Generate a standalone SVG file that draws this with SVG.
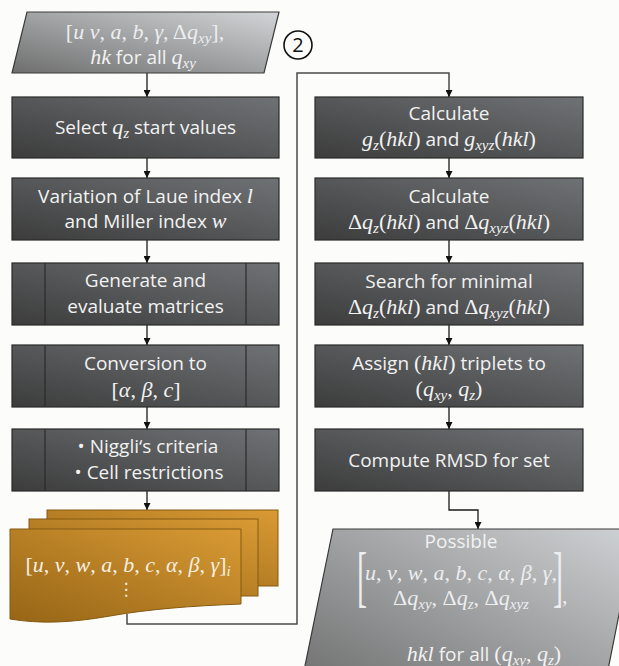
<svg xmlns="http://www.w3.org/2000/svg" width="619" height="666" viewBox="0 0 619 666">
<style>
.t{font-family:"Open Sans","Noto Sans",sans-serif;font-size:19px;fill:#f2f2f2;text-anchor:middle}
.m{font-family:"Liberation Serif","DejaVu Serif",serif;font-style:italic;font-size:22px}
.u{font-family:"Liberation Serif","DejaVu Serif",serif;font-style:normal;font-size:22px}
.sb{font-size:15px}
.box{fill:url(#gDark);stroke:#2a2a2a;stroke-width:1.2}
.div{stroke:#2a2a2a;stroke-width:1.2}
.para{stroke:#3a3a3a;stroke-width:1.2}
.sheet{fill:url(#gOr);stroke:#855a12;stroke-width:1}
.con{fill:none;stroke:#1a1a1a;stroke-width:1.3}
.loop{fill:none;stroke:#4a4a4a;stroke-width:1.5}
</style>
<defs>
<linearGradient id="gDark" x1="0" y1="1" x2="1" y2="0">
<stop offset="0" stop-color="#3c3c3c"/><stop offset="1" stop-color="#6f7275"/>
</linearGradient>
<linearGradient id="gLight" x1="0" y1="1" x2="1" y2="0">
<stop offset="0" stop-color="#6e6e6e"/><stop offset="1" stop-color="#d2d5d7"/>
</linearGradient>
<linearGradient id="gLight2" x1="0" y1="1" x2="1" y2="0">
<stop offset="0" stop-color="#6a6a6a"/><stop offset="1" stop-color="#cfd2d4"/>
</linearGradient>
<linearGradient id="gOr" x1="0" y1="1" x2="1" y2="0">
<stop offset="0" stop-color="#966516"/><stop offset="1" stop-color="#d99a34"/>
</linearGradient>
<marker id="ah" viewBox="0 0 10 10" refX="10" refY="5" markerWidth="7" markerHeight="7" markerUnits="userSpaceOnUse" orient="auto">
<path d="M0,0 L10,5 L0,10 z" fill="#111"/>
</marker>
</defs>
<rect width="619" height="666" fill="#fcfcfa"/>

<g id="connectors">
<line class="con" x1="147" y1="73" x2="147" y2="97" marker-end="url(#ah)"/>
<line class="con" x1="147" y1="158" x2="147" y2="178" marker-end="url(#ah)"/>
<line class="con" x1="147" y1="240" x2="147" y2="263" marker-end="url(#ah)"/>
<line class="con" x1="147" y1="325" x2="147" y2="345" marker-end="url(#ah)"/>
<line class="con" x1="147" y1="407" x2="147" y2="429" marker-end="url(#ah)"/>
<line class="con" x1="147" y1="491" x2="147" y2="510" marker-end="url(#ah)"/>
<path class="loop" d="M127,614 V624 H297 V73 H449 V96"/>
<line class="con" x1="449" y1="90" x2="449" y2="97" marker-end="url(#ah)"/>
<line class="con" x1="449" y1="158" x2="449" y2="178" marker-end="url(#ah)"/>
<line class="con" x1="449" y1="240" x2="449" y2="263" marker-end="url(#ah)"/>
<line class="con" x1="449" y1="325" x2="449" y2="345" marker-end="url(#ah)"/>
<line class="con" x1="449" y1="407" x2="449" y2="429" marker-end="url(#ah)"/>
<path class="con" d="M449,491 V510 H478 V529" marker-end="url(#ah)"/>
</g>

<g id="input">
<polygon class="para" points="27,12 279,12 264,73 12,73" fill="url(#gLight)"/>
<text class="m" x="145" y="39" text-anchor="middle" fill="#eceef0"><tspan class="u">[</tspan>u v<tspan class="u">, </tspan>a<tspan class="u">, </tspan>b<tspan class="u">, </tspan>γ<tspan class="u">, Δ</tspan>q<tspan class="sb" dy="4">xy</tspan><tspan class="u" dy="-4">],</tspan></text>
<text class="t" x="143" y="64" fill="#eceef0"><tspan class="m">hk</tspan> for all <tspan class="m">q</tspan><tspan class="m sb" dy="4">xy</tspan></text>
</g>

<g id="marker2">
<circle cx="298" cy="45" r="14" fill="none" stroke="#111" stroke-width="1.6"/>
<text x="298" y="52" text-anchor="middle" font-family="Open Sans, sans-serif" font-size="20" fill="#111">2</text>
</g>

<g id="select">
<rect class="box" x="12" y="97" width="267" height="61"/>
<text class="t" x="145.5" y="134">Select <tspan class="m">q</tspan><tspan class="m sb" dy="4">z</tspan><tspan dy="-4"> start values</tspan></text>
</g>

<g id="variation">
<rect class="box" x="12" y="178" width="267" height="62"/>
<text class="t" x="145.5" y="203">Variation of Laue index <tspan class="m">l</tspan></text>
<text class="t" x="145.5" y="228">and Miller index <tspan class="m">w</tspan></text>
</g>

<g id="generate">
<rect class="box" x="12" y="263" width="267" height="62"/>
<line class="div" x1="45" y1="263" x2="45" y2="325"/>
<line class="div" x1="246" y1="263" x2="246" y2="325"/>
<text class="t" x="145.5" y="287">Generate and</text>
<text class="t" x="145.5" y="313">evaluate matrices</text>
</g>

<g id="conversion">
<rect class="box" x="12" y="345" width="267" height="62"/>
<line class="div" x1="45" y1="345" x2="45" y2="407"/>
<line class="div" x1="246" y1="345" x2="246" y2="407"/>
<text class="t" x="145.5" y="370">Conversion to</text>
<text class="m" x="146" y="397" text-anchor="middle" fill="#f2f2f2"><tspan class="u">[</tspan>α<tspan class="u">, </tspan>β<tspan class="u">, </tspan>c<tspan class="u">]</tspan></text>
</g>

<g id="criteria">
<rect class="box" x="12" y="429" width="267" height="62"/>
<line class="div" x1="45" y1="429" x2="45" y2="491"/>
<line class="div" x1="246" y1="429" x2="246" y2="491"/>
<text class="t" x="148" y="453">•  Niggli‘s criteria</text>
<text class="t" x="149" y="479">• Cell restrictions</text>
</g>

<g id="results">
<rect class="sheet" x="47" y="510" width="231" height="76"/>
<rect class="sheet" x="29" y="519" width="229" height="77"/>
<path class="sheet" d="M10,529 H241 V604 C190,606 150,609 110,616 C70,623 40,624 10,619 Z"/>
<text class="m" x="128" y="572" text-anchor="middle" fill="#f6efe2"><tspan class="u">[</tspan>u<tspan class="u">, </tspan>v<tspan class="u">, </tspan>w<tspan class="u">, </tspan>a<tspan class="u">, </tspan>b<tspan class="u">, </tspan>c<tspan class="u">, </tspan>α<tspan class="u">, </tspan>β<tspan class="u">, </tspan>γ<tspan class="u">]</tspan><tspan class="sb" dy="4">i</tspan></text>
<text x="126" y="595" text-anchor="middle" font-family="DejaVu Sans, sans-serif" font-size="17" fill="#f6efe2">⋮</text>
</g>

<g id="calc-g">
<rect class="box" x="315" y="97" width="268" height="61"/>
<text class="t" x="449" y="120">Calculate</text>
<text class="t" x="449" y="146"><tspan class="m">g</tspan><tspan class="m sb" dy="4">z</tspan><tspan class="u" dy="-4">(</tspan><tspan class="m">hkl</tspan><tspan class="u">)</tspan> and <tspan class="m">g</tspan><tspan class="m sb" dy="4">xyz</tspan><tspan class="u" dy="-4">(</tspan><tspan class="m">hkl</tspan><tspan class="u">)</tspan></text>
</g>

<g id="calc-dq">
<rect class="box" x="315" y="178" width="268" height="62"/>
<text class="t" x="449" y="203">Calculate</text>
<text class="t" x="449" y="229"><tspan class="u">Δ</tspan><tspan class="m">q</tspan><tspan class="m sb" dy="4">z</tspan><tspan class="u" dy="-4">(</tspan><tspan class="m">hkl</tspan><tspan class="u">)</tspan> and <tspan class="u">Δ</tspan><tspan class="m">q</tspan><tspan class="m sb" dy="4">xyz</tspan><tspan class="u" dy="-4">(</tspan><tspan class="m">hkl</tspan><tspan class="u">)</tspan></text>
</g>

<g id="search">
<rect class="box" x="315" y="263" width="268" height="62"/>
<text class="t" x="449" y="288">Search for minimal</text>
<text class="t" x="449" y="314"><tspan class="u">Δ</tspan><tspan class="m">q</tspan><tspan class="m sb" dy="4">z</tspan><tspan class="u" dy="-4">(</tspan><tspan class="m">hkl</tspan><tspan class="u">)</tspan> and <tspan class="u">Δ</tspan><tspan class="m">q</tspan><tspan class="m sb" dy="4">xyz</tspan><tspan class="u" dy="-4">(</tspan><tspan class="m">hkl</tspan><tspan class="u">)</tspan></text>
</g>

<g id="assign">
<rect class="box" x="315" y="345" width="268" height="62"/>
<text class="t" x="449" y="370">Assign <tspan class="u">(</tspan><tspan class="m">hkl</tspan><tspan class="u">)</tspan> triplets to</text>
<text class="t" x="449" y="396"><tspan class="u">(</tspan><tspan class="m">q</tspan><tspan class="m sb" dy="4">xy</tspan><tspan class="u" dy="-4">, </tspan><tspan class="m">q</tspan><tspan class="m sb" dy="4">z</tspan><tspan class="u" dy="-4">)</tspan></text>
</g>

<g id="rmsd">
<rect class="box" x="315" y="429" width="268" height="62"/>
<text class="t" x="449" y="467">Compute RMSD for set</text>
</g>

<g id="output">
<polygon class="para" points="333,529 636,529 602,700 298,700" fill="url(#gLight2)"/>
<text class="t" x="461" y="548" fill="#eceef0">Possible</text>
<text class="u" transform="translate(357,599) scale(0.45,1)" fill="#eceef0" style="font-size:67px">[</text>
<text class="u" transform="translate(553,599) scale(0.45,1)" fill="#eceef0" style="font-size:67px">]</text>
<text class="u" x="562" y="603" fill="#eceef0">,</text>
<text class="m" x="461" y="580" text-anchor="middle" fill="#eceef0">u<tspan class="u">, </tspan>v<tspan class="u">, </tspan>w<tspan class="u">, </tspan>a<tspan class="u">, </tspan>b<tspan class="u">, </tspan>c<tspan class="u">, </tspan>α<tspan class="u">, </tspan>β<tspan class="u">, </tspan>γ<tspan class="u">,</tspan></text>
<text class="m" x="461" y="605" text-anchor="middle" fill="#eceef0"><tspan class="u">Δ</tspan>q<tspan class="sb" dy="4">xy</tspan><tspan class="u" dy="-4">, Δ</tspan>q<tspan class="sb" dy="4">z</tspan><tspan class="u" dy="-4">, Δ</tspan>q<tspan class="sb" dy="4">xyz</tspan></text>
<text class="t" x="484" y="661" fill="#eceef0"><tspan class="m">hkl</tspan> for all <tspan class="u">(</tspan><tspan class="m">q</tspan><tspan class="m sb" dy="4">xy</tspan><tspan class="u" dy="-4">, </tspan><tspan class="m">q</tspan><tspan class="m sb" dy="4">z</tspan><tspan class="u" dy="-4">)</tspan></text>
</g>
</svg>
